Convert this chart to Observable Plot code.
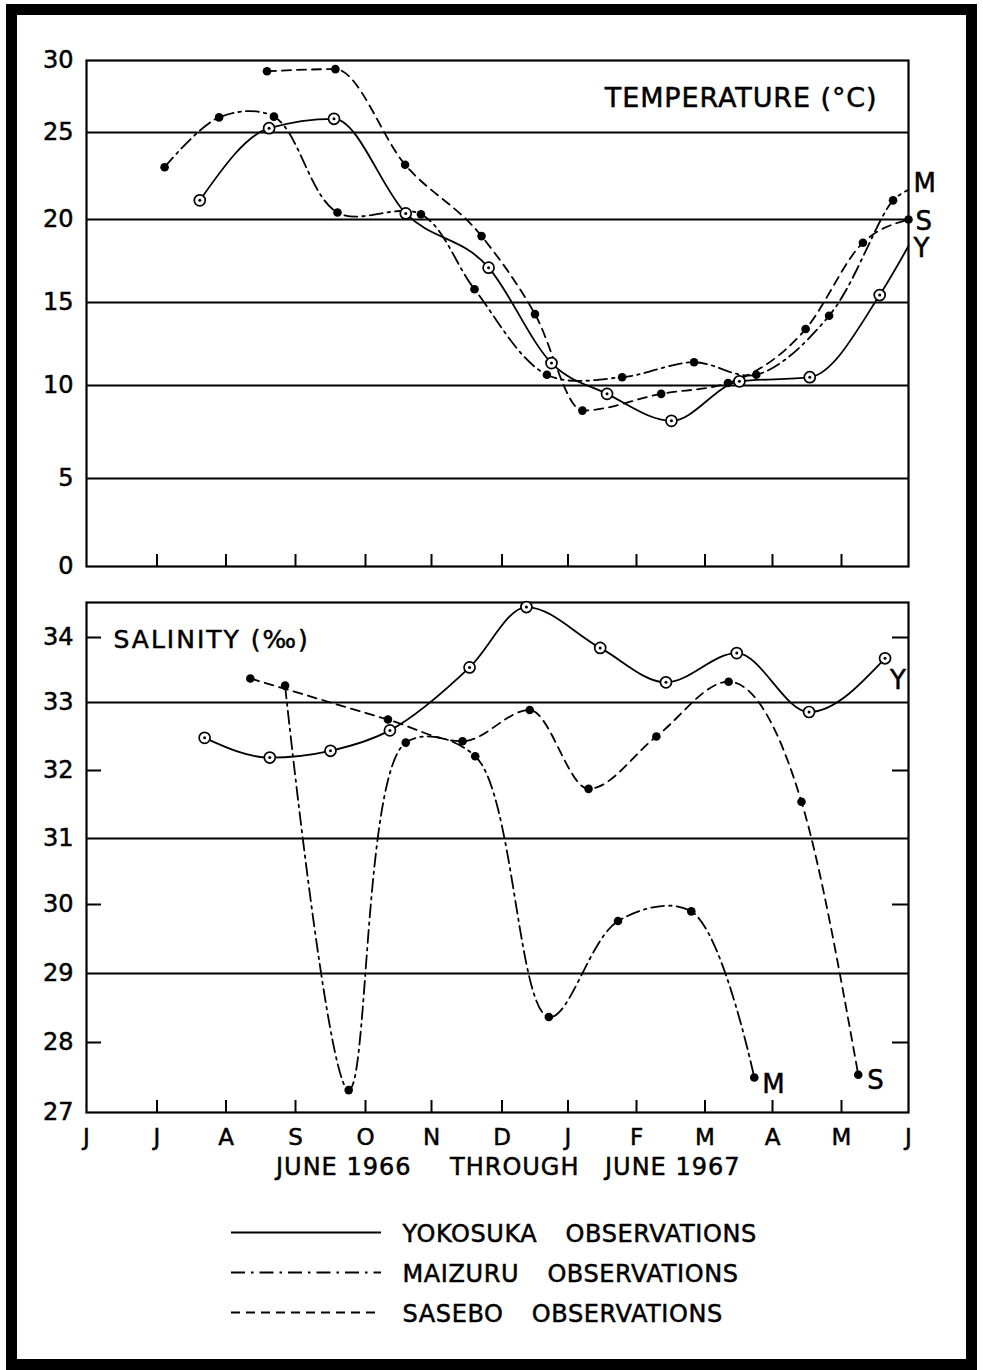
<!DOCTYPE html>
<html><head><meta charset="utf-8">
<script src="https://cdn.jsdelivr.net/npm/d3@7"></script>
<script src="https://cdn.jsdelivr.net/npm/@observablehq/plot@0.6"></script>
<style>
html,body{margin:0;padding:0;background:#fff;overflow:hidden;}
#page{position:relative;width:983px;height:1370px;background:#fff;font-family:"DejaVu Sans",sans-serif;color:#000;}
.chart{position:absolute;left:0;}
.chart svg text{stroke:#000;stroke-width:0.5px;}
#border{position:absolute;left:6px;top:4px;width:971px;height:1366px;border:11px solid #000;box-sizing:border-box;pointer-events:none;z-index:10;}
.cap{position:absolute;top:1155px;font-size:24px;letter-spacing:1px;white-space:nowrap;line-height:1;-webkit-text-stroke:0.5px #000;}
</style></head><body>
<div id="page">
  <div id="temp" class="chart" style="top:0"></div>
  <div id="sal" class="chart" style="top:580px"></div>
  <div id="legend" class="chart" style="top:1195px"></div>
  <span class="cap" style="left:276px">JUNE 1966</span>
  <span class="cap" style="left:450px">THROUGH</span>
  <span class="cap" style="left:605px">JUNE 1967</span>
  <div id="border"></div>
</div>
<script>
// ---- axes / ticks ----
const months = [0,1,2,3,4,5,6,7,8,9,10,11,12];           // months since June 1966
const monthLabels = ["J","J","A","S","O","N","D","J","F","M","A","M","J"];
const tempTicks = [0,5,10,15,20,25,30];
const tempGrid = [5,10,15,20,25];
const salTicks = [27,28,29,30,31,32,33,34];
const salGrid = [29,31,33];
const salMinorTicks = [28,30,32,34];
const stations = ["Yokosuka","Maizuru","Sasebo"];
const tempTitle = "TEMPERATURE (°C)";
const salTitle = "SALINITY (‰)";

// ---- temperature (°C) ----
const yokoTempMonth = [1.62,2.62,3.55,4.61,5.81,6.75,7.57,8.51,9.51,10.54,11.57];
const yokoTemp      = [21.1,25.3,25.95,20.35,17.1,11.35,9.55,8.1,10.25,10.5,15.45];
const yokoTempEdge  = 18.4;   // where the curve meets the June 1967 edge
const maiTempMonth  = [1.11,1.90,2.69,3.60,4.84,5.61,6.68,7.79,8.84,9.76,10.82,11.77];
const maiTemp       = [23.0,26.05,26.1,20.4,20.3,15.8,10.65,10.5,11.4,10.65,14.2,21.1];
const maiTempEdge   = 21.7;
const sasTempMonth  = [2.59,3.57,4.60,5.71,6.50,7.21,8.36,9.34,10.48,11.32,12];
const sasTemp       = [29.25,29.4,23.15,19.0,14.3,8.65,9.55,10.15,13.4,18.6,20.0];

// ---- salinity (per mille) ----
const yokoSalMonth = [1.69,2.63,3.50,4.37,5.54,6.37,7.47,8.43,9.47,10.53,11.65];
const yokoSal      = [32.48,32.19,32.29,32.59,33.54,34.47,33.84,33.31,33.76,32.86,33.68];
const maiSalMonth  = [2.85,3.76,4.61,5.62,6.71,7.73,8.80,9.73];
const maiSal       = [33.26,27.32,32.41,32.21,28.37,29.76,29.90,27.50];
const sasSalMonth  = [2.35,4.34,5.44,6.42,7.30,8.29,9.35,10.42,11.25];
const sasSal       = [33.37,32.75,32.43,32.89,31.73,32.50,33.32,31.54,27.54];

const rows = (ms, vs) => ms.map((m, i) => ({month: m, value: vs[i]}));
const yokoT = rows(yokoTempMonth, yokoTemp), maiT = rows(maiTempMonth, maiTemp), sasT = rows(sasTempMonth, sasTemp);
const yokoTLine = yokoT.concat([{month: 12, value: yokoTempEdge}]);
const maiTLine = maiT.concat([{month: 12, value: maiTempEdge}]);
const yokoS = rows(yokoSalMonth, yokoSal), maiS = rows(maiSalMonth, maiSal), sasS = rows(sasSalMonth, sasSal);

const FONT = "'DejaVu Sans', sans-serif";
const DASHDOT = "13,5,2.5,5";
const DASH = "9,6";
const xScale = {type: "linear", domain: months,
  range: [86,156.5,225.5,295,365,431,501.5,567.5,636,704.5,772,841,908], label: null};

function seriesMarks(yk, ykLine, mz, mzLine, ss) {
  return [
    Plot.line(ykLine, {x: "month", y: "value", curve: "monotone-x", strokeWidth: 1.8}),
    Plot.line(mzLine, {x: "month", y: "value", curve: "catmull-rom", strokeWidth: 1.8, strokeDasharray: DASHDOT}),
    Plot.line(ss, {x: "month", y: "value", curve: "monotone-x", strokeWidth: 1.8, strokeDasharray: DASH}),
    Plot.dot(yk, {x: "month", y: "value", r: 5.5, fill: "white", stroke: "black", strokeWidth: 1.7}),
    Plot.dot(yk, {x: "month", y: "value", r: 1.5, fill: "black"}),
    Plot.dot(mz, {x: "month", y: "value", r: 4.3, fill: "black"}),
    Plot.dot(ss, {x: "month", y: "value", r: 4.3, fill: "black"})
  ];
}

// ---- temperature panel ----
const tempPlot = Plot.plot({
  width: 983, height: 600,
  marginLeft: 86, marginRight: 75, marginTop: 60, marginBottom: 34,
  style: `background: transparent; font-family: ${FONT}; overflow: visible;`,
  x: {...xScale, axis: null},
  y: {type: "linear", domain: tempTicks, range: [566,478,385,302,219,132,60], label: null},
  marks: [
    Plot.ruleY(tempGrid, {strokeWidth: 2}),
    Plot.ruleX(months.slice(1, -1), {strokeWidth: 2, insetTop: 506 - 12}),
    Plot.frame({strokeWidth: 2.2}),
    Plot.axisY(tempTicks, {tickSize: 0, tickPadding: 13, fontSize: 24, label: null}),
    ...seriesMarks(yokoT, yokoTLine, maiT, maiTLine, sasT),
    Plot.text([tempTitle], {text: d => d, frameAnchor: "top-right", textAnchor: "end", lineAnchor: "middle", dx: -31, dy: 38, fontSize: 27}),
    Plot.text([{t: "M", month: 12, value: maiTempEdge}], {x: "month", y: "value", text: "t", textAnchor: "start", dx: 5, dy: -6, fontSize: 26}),
    Plot.text([{t: "S", month: 12, value: sasTemp[sasTemp.length - 1]}], {x: "month", y: "value", text: "t", textAnchor: "start", dx: 7, dy: 2, fontSize: 26}),
    Plot.text([{t: "Y", month: 12, value: yokoTempEdge}], {x: "month", y: "value", text: "t", textAnchor: "start", dx: 5, dy: 3, fontSize: 26})
  ]
});
d3.select(tempPlot).selectAll("text").filter(function () { return this.textContent === tempTitle; }).attr("letter-spacing", 0.9);
document.getElementById("temp").appendChild(tempPlot);

// ---- salinity panel ----
const lastOf = a => a[a.length - 1];
const salPlot = Plot.plot({
  width: 983, height: 620,
  marginLeft: 86, marginRight: 75, marginTop: 22, marginBottom: 88,
  style: `background: transparent; font-family: ${FONT}; overflow: visible;`,
  x: {...xScale},
  y: {type: "linear", domain: [27,28,29,30,31,32,33,34,34.54], range: [532,462,393,324,258,190,122,57,22], label: null},
  marks: [
    Plot.ruleY(salGrid, {strokeWidth: 2}),
    Plot.ruleY(salMinorTicks, {strokeWidth: 2, insetRight: 822 - 15}),
    Plot.ruleY(salMinorTicks, {strokeWidth: 2, insetLeft: 822 - 16}),
    Plot.ruleX(months.slice(1, -1), {strokeWidth: 2, insetTop: 510 - 12}),
    Plot.frame({strokeWidth: 2.2}),
    Plot.axisY(salTicks, {tickSize: 0, tickPadding: 13, fontSize: 24, tickFormat: "d", label: null}),
    Plot.axisX(months, {tickSize: 0, tickPadding: 16, fontSize: 23, tickFormat: i => monthLabels[i], label: null}),
    ...seriesMarks(yokoS, yokoS, maiS, maiS, sasS),
    Plot.text([salTitle], {text: d => d, frameAnchor: "top-left", textAnchor: "start", lineAnchor: "middle", dx: 27, dy: 37, fontSize: 25}),
    Plot.text([{t: "Y", ...lastOf(yokoS)}], {x: "month", y: "value", text: "t", textAnchor: "start", dx: 5, dy: 22, fontSize: 26}),
    Plot.text([{t: "M", ...lastOf(maiS)}], {x: "month", y: "value", text: "t", textAnchor: "start", dx: 8, dy: 7, fontSize: 26}),
    Plot.text([{t: "S", ...lastOf(sasS)}], {x: "month", y: "value", text: "t", textAnchor: "start", dx: 9, dy: 6, fontSize: 26})
  ]
});
d3.select(salPlot).selectAll("text").filter(function () { return this.textContent === salTitle; }).attr("letter-spacing", 2);
document.getElementById("sal").appendChild(salPlot);

// ---- legend ----
const legendPlot = Plot.plot({
  width: 983, height: 150, margin: 0,
  style: `background: transparent; font-family: ${FONT}; word-spacing: 20px; letter-spacing: 0.6px; overflow: visible;`,
  x: {domain: [0, 1], range: [231, 381], axis: null},
  y: {type: "point", domain: stations, range: [37, 117], padding: 0, axis: null},
  marks: [
    Plot.ruleY([stations[0]], {y: d => d, x1: 0, x2: 1, strokeWidth: 2}),
    Plot.ruleY([stations[1]], {y: d => d, x1: 0, x2: 1, strokeWidth: 2, strokeDasharray: "14,6,2.5,6"}),
    Plot.ruleY([stations[2]], {y: d => d, x1: 0, x2: 1, strokeWidth: 2, strokeDasharray: DASH}),
    Plot.text(stations, {x: () => 1, y: d => d, text: d => d.toUpperCase() + " OBSERVATIONS", textAnchor: "start", lineAnchor: "middle", dx: 21, dy: 2, fontSize: 24})
  ]
});
document.getElementById("legend").appendChild(legendPlot);
</script>
</body></html>
